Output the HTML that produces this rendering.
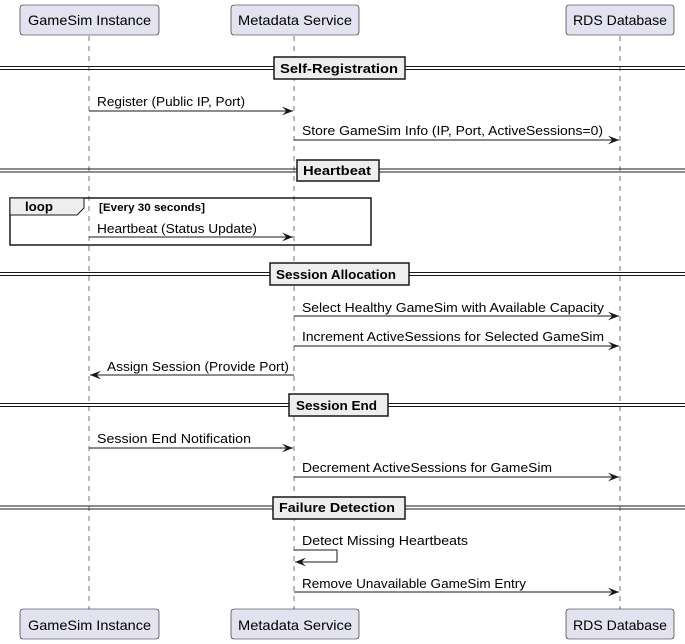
<!DOCTYPE html>
<html><head><meta charset="utf-8"><style>
html,body{margin:0;padding:0;background:#fff;}
svg{display:block;font-family:"Liberation Sans",sans-serif;}
</style></head><body>
<svg width="685" height="644" viewBox="0 0 685 644" xmlns="http://www.w3.org/2000/svg">
<defs>
<marker id="a" viewBox="0 0 10 10" refX="10" refY="5" markerWidth="11" markerHeight="11" orient="auto" markerUnits="userSpaceOnUse"><path d="M0,1 L10,5 L0,9 L4,5 Z" fill="#181818"/></marker>
</defs>
<g stroke="#181818" stroke-dasharray="5,5" stroke-width="0.6">
<line x1="89" y1="36" x2="89" y2="609"/>
<line x1="294" y1="36" x2="294" y2="609"/>
<line x1="620" y1="36" x2="620" y2="609"/>
</g>
<g fill="#E2E2F0" stroke="#181818" stroke-width="0.6">
<rect x="20" y="5" width="139" height="30" rx="3"/>
<rect x="231" y="5" width="128" height="30" rx="3"/>
<rect x="566" y="5" width="108" height="30" rx="3"/>
<rect x="20" y="609" width="139" height="30" rx="3"/>
<rect x="231" y="609" width="128" height="30" rx="3"/>
<rect x="566" y="609" width="108" height="30" rx="3"/>
</g>
<g font-size="14" fill="#000">
<text x="28" y="25" textLength="123" lengthAdjust="spacingAndGlyphs">GameSim Instance</text>
<text x="238" y="25" textLength="114" lengthAdjust="spacingAndGlyphs">Metadata Service</text>
<text x="573" y="25" textLength="94" lengthAdjust="spacingAndGlyphs">RDS Database</text>
<text x="28" y="630" textLength="123" lengthAdjust="spacingAndGlyphs">GameSim Instance</text>
<text x="238" y="630" textLength="114" lengthAdjust="spacingAndGlyphs">Metadata Service</text>
<text x="573" y="630" textLength="94" lengthAdjust="spacingAndGlyphs">RDS Database</text>
</g>
<g stroke="#181818" stroke-width="1">
<line x1="0" y1="66.5" x2="685" y2="66.5"/><line x1="0" y1="69.5" x2="685" y2="69.5"/>
<line x1="0" y1="169" x2="685" y2="169"/><line x1="0" y1="172" x2="685" y2="172"/>
<line x1="0" y1="272.5" x2="685" y2="272.5"/><line x1="0" y1="275.5" x2="685" y2="275.5"/>
<line x1="0" y1="403.5" x2="685" y2="403.5"/><line x1="0" y1="406.5" x2="685" y2="406.5"/>
<line x1="0" y1="506" x2="685" y2="506"/><line x1="0" y1="509" x2="685" y2="509"/>
</g>
<g fill="#EEEEEE" stroke="#181818" stroke-width="1.5">
<rect x="274" y="57" width="131" height="22"/>
<rect x="297" y="160" width="82" height="21"/>
<rect x="270" y="263" width="139" height="22"/>
<rect x="289" y="394" width="99" height="22"/>
<rect x="273" y="497" width="132" height="22"/>
</g>
<g font-size="13" font-weight="bold" fill="#000">
<text x="280" y="73" textLength="118" lengthAdjust="spacingAndGlyphs">Self-Registration</text>
<text x="303" y="175" textLength="68" lengthAdjust="spacingAndGlyphs">Heartbeat</text>
<text x="276" y="279" textLength="120" lengthAdjust="spacingAndGlyphs">Session Allocation</text>
<text x="296" y="410" textLength="81" lengthAdjust="spacingAndGlyphs">Session End</text>
<text x="279" y="512" textLength="116" lengthAdjust="spacingAndGlyphs">Failure Detection</text>
</g>
<rect x="10" y="198" width="361" height="47" fill="none" stroke="#181818" stroke-width="1.5"/>
<path d="M10,198 L84,198 L84,208 L77,215 L10,215 Z" fill="#EEEEEE" stroke="#181818" stroke-width="1"/>
<text x="25" y="211" font-size="13" font-weight="bold" textLength="28" lengthAdjust="spacingAndGlyphs">loop</text>
<text x="99" y="211" font-size="11" font-weight="bold" textLength="106" lengthAdjust="spacingAndGlyphs">[Every 30 seconds]</text>
<g stroke="#181818" stroke-width="1" marker-end="url(#a)">
<line x1="89" y1="111" x2="293" y2="111"/>
<line x1="294" y1="140" x2="619" y2="140"/>
<line x1="89" y1="237" x2="293" y2="237"/>
<line x1="294" y1="316" x2="619" y2="316"/>
<line x1="294" y1="346" x2="619" y2="346"/>
<line x1="294" y1="375" x2="90" y2="375"/>
<line x1="89" y1="448" x2="293" y2="448"/>
<line x1="294" y1="477" x2="619" y2="477"/>
<polyline points="294,550 337,550 337,562 295,562" fill="none"/>
<line x1="294" y1="592" x2="619" y2="592"/>
</g>
<g font-size="13" fill="#000">
<text x="97" y="106" textLength="148" lengthAdjust="spacingAndGlyphs">Register (Public IP, Port)</text>
<text x="302" y="135" textLength="301" lengthAdjust="spacingAndGlyphs">Store GameSim Info (IP, Port, ActiveSessions=0)</text>
<text x="97" y="233" textLength="160" lengthAdjust="spacingAndGlyphs">Heartbeat (Status Update)</text>
<text x="302" y="312" textLength="302" lengthAdjust="spacingAndGlyphs">Select Healthy GameSim with Available Capacity</text>
<text x="302" y="341" textLength="302" lengthAdjust="spacingAndGlyphs">Increment ActiveSessions for Selected GameSim</text>
<text x="107" y="371" textLength="182" lengthAdjust="spacingAndGlyphs">Assign Session (Provide Port)</text>
<text x="97" y="443" textLength="154" lengthAdjust="spacingAndGlyphs">Session End Notification</text>
<text x="302" y="472" textLength="250" lengthAdjust="spacingAndGlyphs">Decrement ActiveSessions for GameSim</text>
<text x="302" y="545" textLength="166" lengthAdjust="spacingAndGlyphs">Detect Missing Heartbeats</text>
<text x="302" y="588" textLength="224" lengthAdjust="spacingAndGlyphs">Remove Unavailable GameSim Entry</text>
</g>
</svg>
</body></html>
